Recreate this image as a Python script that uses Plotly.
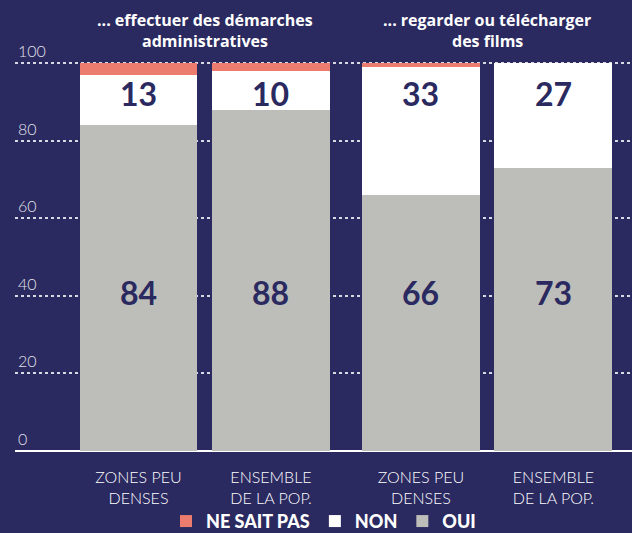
import plotly.graph_objects as go

categories = ["ZONES PEU<br>DENSES", "ENSEMBLE<br>DE LA POP.", "ZONES PEU<br>DENSES", "ENSEMBLE<br>DE LA POP."]
group_titles = [["... effectuer des démarches", "administratives"], ["... regarder ou télécharger", "des films"]]
oui = [84, 88, 66, 73]
non = [13, 10, 33, 27]
nsp = [3, 2, 1, 0]
y_ticks = [0, 20, 40, 60, 80, 100]

BG = "#2a2960"
NAVY = "#2a2960"
GREY = "#bdbdb9"
SALMON = "#ec7c6d"
FONT = "Lato"

xpos = [0, 1, 2.132, 3.132]
bw = 0.89

fig = go.Figure()
fig.add_trace(go.Bar(x=xpos, y=oui, width=bw, name="OUI", marker=dict(color=GREY, line_width=0)))
fig.add_trace(go.Bar(x=xpos, y=non, width=bw, name="NON", marker=dict(color="#ffffff", line_width=0)))
fig.add_trace(go.Bar(x=xpos, y=nsp, width=bw, name="NE SAIT PAS", marker=dict(color=SALMON, line_width=0)))

annotations = []
for i, x in enumerate(xpos):
    annotations.append(dict(x=x, y=92.2, xref="x", yref="y", text=f"<b>{non[i]}</b>", showarrow=False,
                            font=dict(family=FONT, size=32, color=NAVY, weight=900)))
    annotations.append(dict(x=x, y=40.8, xref="x", yref="y", text=f"<b>{oui[i]}</b>", showarrow=False,
                            font=dict(family=FONT, size=32, color=NAVY, weight=900)))
for g, lines in enumerate(group_titles):
    cx = (xpos[2 * g] + xpos[2 * g + 1]) / 2
    for k, line in enumerate(lines):
        annotations.append(dict(x=cx, y=1, xref="x", yref="paper", yanchor="middle", yshift=42 - 21 * k,
                                text=f"<b>{line}</b>", showarrow=False, align="center",
                                font=dict(family="Open Sans", size=16, color="#ffffff", weight=700)))
for v in y_ticks:
    annotations.append(dict(x=0, y=v, xref="paper", yref="y", xanchor="left", yanchor="bottom",
                            xshift=1, yshift=1, text=str(v), showarrow=False,
                            font=dict(family=FONT, size=16, color="#e2e2ea", weight=300)))

fig.update_layout(
    width=632, height=533,
    margin=dict(l=15, r=0, t=62, b=0, pad=0, autoexpand=False),
    paper_bgcolor=BG, plot_bgcolor=BG,
    barmode="stack", bargap=0,
    showlegend=True,
    legend=dict(orientation="h", x=0.5, xanchor="center", y=0.064, yanchor="top",
                traceorder="reversed", font=dict(family=FONT, size=18, color="#ffffff", weight=900),
                itemwidth=30, bgcolor="rgba(0,0,0,0)"),
    annotations=annotations,
    xaxis=dict(range=[-0.932, 3.725], tickvals=xpos, ticktext=categories, showgrid=False, zeroline=False,
               showline=False, ticks="outside", ticklen=12, tickcolor="rgba(0,0,0,0)", automargin=False,
               anchor="y",
               tickfont=dict(family=FONT, size=16, color="#ffffff", weight=300)),
    yaxis=dict(range=[0, 100.3], tickvals=y_ticks, showticklabels=False, domain=[0.1741, 1],
               showgrid=True, gridcolor="#d8d8e4", griddash="dot", gridwidth=1.5, automargin=False,
               zeroline=True, zerolinecolor="#ffffff", zerolinewidth=2, showline=False),
)
fig.write_html("out.html", config={"responsive": False, "displayModeBar": False},
               post_script="document.body.style.margin='0';document.body.style.overflow='hidden';")
